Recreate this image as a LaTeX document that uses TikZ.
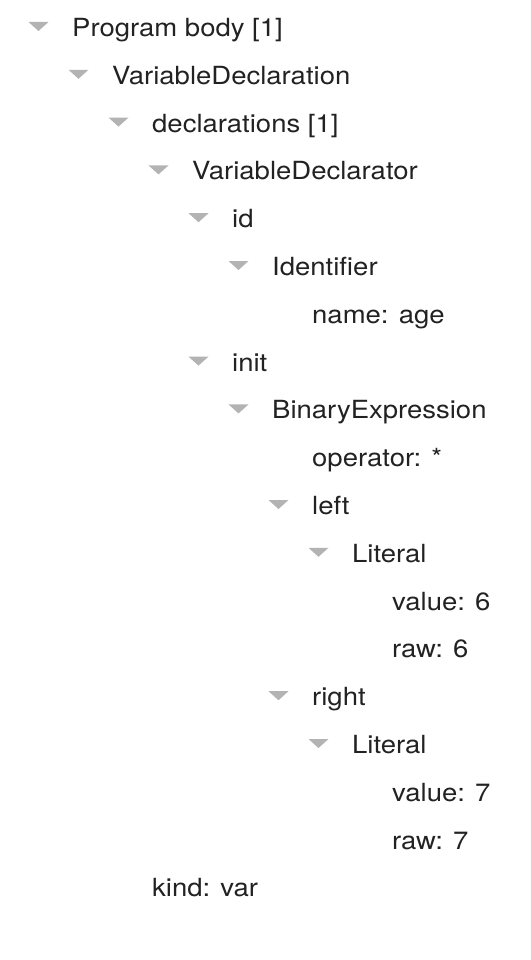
\documentclass[tikz,border=0pt]{standalone}
\usepackage{fontspec}
\setmainfont{TeX Gyre Heros}[FakeStretch=1.1]
\definecolor{treetext}{HTML}{222222}
\definecolor{togglegray}{HTML}{B3B3B3}
\begin{document}
\begin{tikzpicture}[x=1pt,y=-1pt,
  entry/.style={anchor=base west,inner sep=0pt,text=treetext,
    font=\fontsize{25}{29}\selectfont},
  toggle/.pic={\fill[togglegray] (-10,-14.5) -- (10,-14.5) -- (0,-5.5) -- cycle;}]
\useasboundingbox (0,0) rectangle (530,960);
% rows are 47.8 apart, each level indents by 40
\def\rowy#1{36.5+47.8*#1}
\node[entry] (n0)  at (72,  {\rowy{0}})  {Program body [1]};
\node[entry] (n1)  at (112, {\rowy{1}})  {VariableDeclaration};
\node[entry] (n2)  at (152, {\rowy{2}})  {declarations [1]};
\node[entry] (n3)  at (192, {\rowy{3}})  {VariableDeclarator};
\node[entry] (n4)  at (232, {\rowy{4}})  {id};
\node[entry] (n5)  at (272, {\rowy{5}})  {Identifier};
\node[entry] (n6)  at (312, {\rowy{6}})  {name: age};
\node[entry] (n7)  at (232, {\rowy{7}})  {init};
\node[entry] (n8)  at (272, {\rowy{8}})  {BinaryExpression};
\node[entry] (n9)  at (312, {\rowy{9}})  {operator: *};
\node[entry] (n10) at (312, {\rowy{10}}) {left};
\node[entry] (n11) at (352, {\rowy{11}}) {Literal};
\node[entry] (n12) at (392, {\rowy{12}}) {value: 6};
\node[entry] (n13) at (392, {\rowy{13}}) {raw: 6};
\node[entry] (n14) at (312, {\rowy{14}}) {right};
\node[entry] (n15) at (352, {\rowy{15}}) {Literal};
\node[entry] (n16) at (392, {\rowy{16}}) {value: 7};
\node[entry] (n17) at (392, {\rowy{17}}) {raw: 7};
\node[entry] (n18) at (152, {\rowy{18}}) {kind: var};
% expand/collapse markers sit 33.5 left of the entry they open
\foreach \n in {n0,n1,n2,n3,n4,n5,n7,n8,n10,n11,n14,n15}
  \path (\n.base west) ++(-33.5,0) pic {toggle};
\end{tikzpicture}
\end{document}
